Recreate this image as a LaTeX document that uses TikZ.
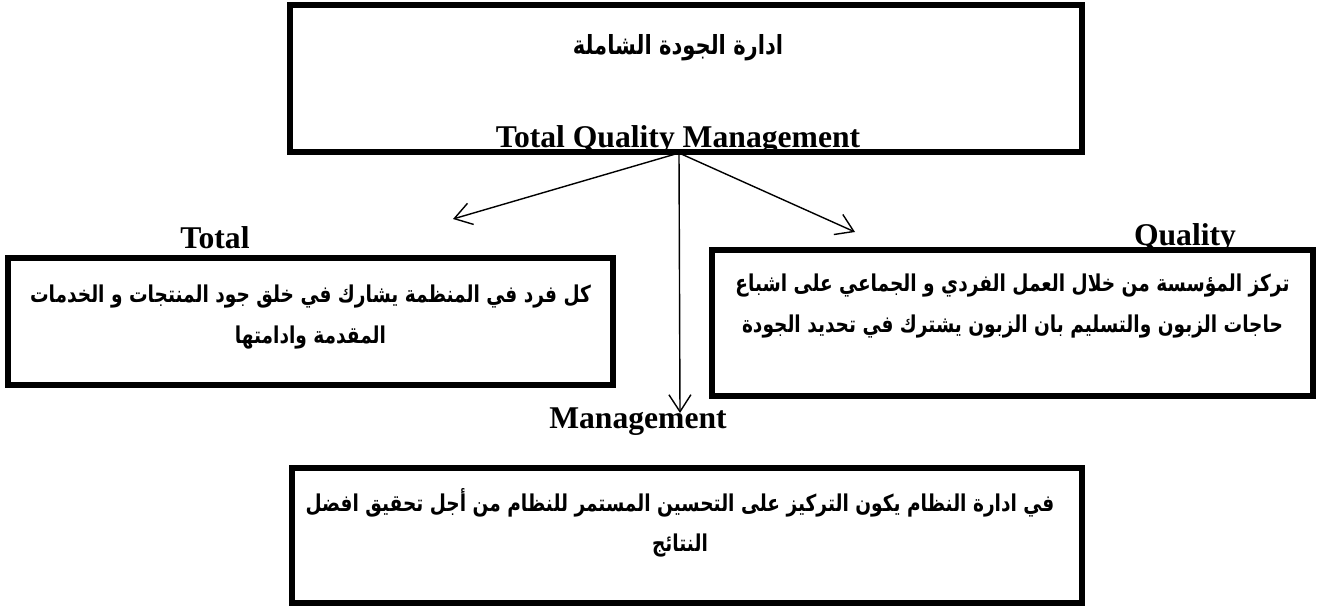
\documentclass[tikz,border=0pt]{standalone}
\usepackage{fontspec}
\setmainfont{Liberation Serif}
\newfontfamily\arabicfont[Script=Arabic,FakeStretch=0.8]{DejaVu Sans}
\TeXXeTstate=1
\usetikzlibrary{arrows.meta,positioning}

\tikzset{
    box/.style={draw,line width=3pt,minimum width=#1},
    ar/.style={font=\arabicfont\bfseries\fontsize{13.2}{23}\selectfont,align=center},
    en/.style={font=\bfseries\fontsize{18}{20}\selectfont}
}

\begin{document}
\begin{tikzpicture}[>={Straight Barb[length=3.4mm,width=4.4mm]}]
    \useasboundingbox (0,0) rectangle (26.4,12.14);

    \coordinate (hub) at (13.58,9.08);
    \coordinate (T) at (9.06,7.76);
    \coordinate (Q) at (17.1,7.5);
    \coordinate (M) at (13.6,3.88);

    \node[box=15.84cm,minimum height=2.94cm] (tqm) at (13.72,10.57) {};
    \node[box=12.1cm,minimum height=2.54cm] (total) at (6.21,5.71) {};
    \node[box=12.02cm,minimum height=2.92cm] (quality) at (20.25,5.68) {};
    \node[box=15.8cm,minimum height=2.7cm] (mgmt) at (13.74,1.43) {};

    \node[ar,font=\arabicfont\bfseries\fontsize{15}{20}\selectfont] (tqmar) at (13.56,11.18) {\beginR ادارة الجودة الشاملة\endR};
    \begin{scope}
        \clip (tqm.north west) rectangle (tqm.south east);
        \node[en,anchor=base] (tqmen) at (13.56,9.2) {Total Quality Management};
    \end{scope}

    \draw[thick,->] (hub)--(T);
    \draw[thick,->] (hub)--(Q);
    \draw[thick,->] (hub)--(M);

    \node[en] (totallbl) at (4.3,7.38) {Total};
    \node[en] (qualitylbl) at (23.7,7.38) {Quality};
    \node[en] (mgmtlbl) at (12.76,3.7) {Management};

    \node[ar] (totaltxt) at (6.21,5.8) {\beginR كل فرد في المنظمة يشارك في خلق جود المنتجات و الخدمات\endR\\
        \beginR المقدمة وادامتها\endR};
    \node[ar] (qualitytxt) at (20.25,6.02) {\beginR تركز المؤسسة من خلال العمل الفردي و الجماعي على اشباع\endR\\
        \beginR حاجات الزبون والتسليم بان الزبون يشترك في تحديد الجودة\endR};
    \node[ar] (mgmttxt) at (13.6,1.68) {\beginR في ادارة النظام يكون التركيز على التحسين المستمر للنظام من أجل تحقيق افضل\endR\\
        \beginR النتائج\endR};
\end{tikzpicture}
\end{document}
